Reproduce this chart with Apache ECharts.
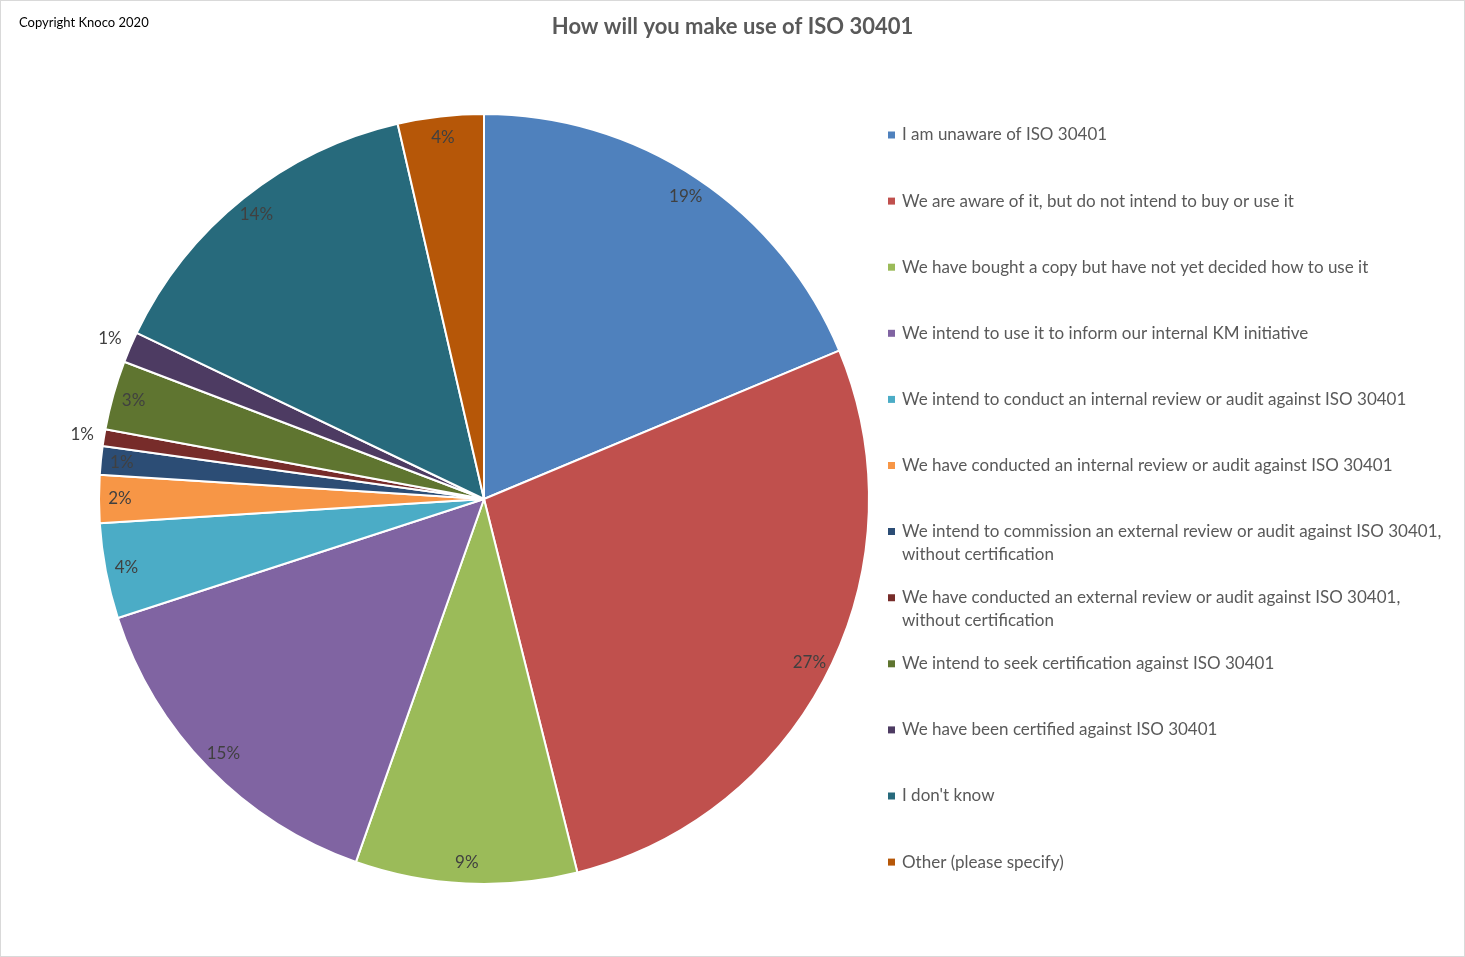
<!DOCTYPE html>
<html>
<head>
<meta charset="utf-8">
<title>How will you make use of ISO 30401</title>
<script src="https://cdn.jsdelivr.net/npm/echarts@6/dist/echarts.min.js"></script>
<style>
	html, body { margin: 0; padding: 0; background: #fff; }
	#chart { width: 1465px; height: 957px; border: 1px solid #d9d9d9; box-sizing: border-box; }
</style>
</head>
<body>
<div id="chart"></div>
<script>
// answers, clockwise from 12 o'clock
var answers = [
	'I am unaware of ISO 30401',
	'We are aware of it, but do not intend to buy or use it',
	'We have bought a copy but have not yet decided how to use it',
	'We intend to use it to inform our internal KM initiative',
	'We intend to conduct an internal review or audit against ISO 30401',
	'We have conducted an internal review or audit against ISO 30401',
	'We intend to commission an external review or audit against ISO 30401,\nwithout certification',
	'We have conducted an external review or audit against ISO 30401,\nwithout certification',
	'We intend to seek certification against ISO 30401',
	'We have been certified against ISO 30401',
	"I don't know",
	'Other (please specify)'
];
// share of responses, %
var shares = [18.7, 27.4, 9.3, 14.6, 4.0, 2.0, 1.2, 0.7, 2.9, 1.3, 14.3, 3.6];

var colors = ['#4F81BD', '#C0504D', '#9BBB59', '#8064A2', '#4BACC6', '#F79646',
	'#2C4D75', '#772C2A', '#5F7530', '#4D3B62', '#276A7C', '#B65708'];

var FONT = 'Lato';
var cx = 483, cy = 498, R = 385;
var outsideIdx = [7, 9]; // labels Excel pushed outside the pie

var pieData = answers.map(function(name, i) {
	return {name: name, value: shares[i]};
});

function pctLabel(p) {
	return Math.round(p.percent) + '%';
}

// one legend per entry so the rows keep an even step
var legends = answers.map(function(name, i) {
	var twoLines = name.indexOf('\n') >= 0;
	return {
		orient: 'vertical',
		left: 887,
		top: 134 + i * 66.1 - 11.5,
		padding: 0,
		itemWidth: 7,
		itemHeight: twoLines ? 30 : 7,
		itemStyle: {borderWidth: 0},
		selectedMode: false,
		textStyle: {fontFamily: FONT, fontSize: 17, color: '#595959', lineHeight: 23, padding: [0, 0, 0, 2]},
		data: [{
			name: name,
			// square sits on the first text line
			icon: twoLines ? 'path://M0,0h7v7h-7z M0,30h0.01v0.01h-0.01z' : 'rect'
		}]
	};
});

var myChart = echarts.init(document.getElementById('chart'));
var option = {
	color: colors,
	animation: false,
	title: [{
		text: 'How will you make use of ISO 30401',
		left: 'center',
		top: 15,
		padding: 0,
		textStyle: {fontFamily: FONT, fontSize: 22, fontWeight: 'bold', color: '#595959'}
	}, {
		text: 'Copyright Knoco 2020',
		left: 18,
		top: 15,
		padding: 0,
		textStyle: {fontFamily: FONT, fontSize: 13, fontWeight: 'normal', color: '#000'}
	}],
	legend: legends,
	series: [
		{
			name: 'answers',
			type: 'pie',
			center: [cx, cy],
			radius: R,
			startAngle: 90,
			clockwise: true,
			label: {show: false},
			labelLine: {show: false},
			itemStyle: {borderColor: '#fff', borderWidth: 2},
			emphasis: {disabled: true},
			data: pieData
		},
		{
			// invisible ring to put labels near the rim
			name: 'labels',
			type: 'pie',
			center: [cx, cy],
			radius: [R - 48, R],
			startAngle: 90,
			silent: true,
			itemStyle: {color: 'rgba(0,0,0,0)'},
			label: {
				show: true,
				position: 'inside',
				fontFamily: FONT,
				fontSize: 17,
				color: '#404040',
				formatter: function(p) {
					return outsideIdx.indexOf(p.dataIndex) >= 0 ? '' : pctLabel(p);
				}
			},
			labelLine: {show: false},
			emphasis: {disabled: true},
			data: pieData
		},
		{
			name: 'labelsOut',
			type: 'pie',
			center: [cx, cy],
			radius: [R, R + 38],
			startAngle: 90,
			silent: true,
			itemStyle: {color: 'rgba(0,0,0,0)'},
			label: {
				show: true,
				position: 'inside',
				fontFamily: FONT,
				fontSize: 17,
				color: '#404040',
				formatter: function(p) {
					return outsideIdx.indexOf(p.dataIndex) >= 0 ? pctLabel(p) : '';
				}
			},
			labelLine: {show: false},
			emphasis: {disabled: true},
			data: pieData
		}
	]
};
myChart.setOption(option);
</script>
</body>
</html>
